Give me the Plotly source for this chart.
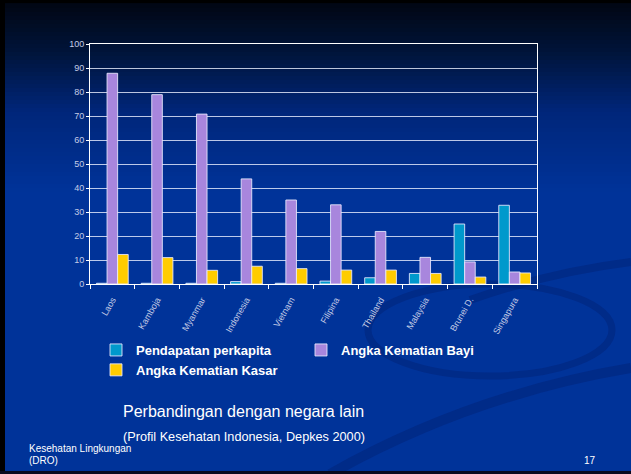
import plotly.graph_objects as go

countries = ["Laos", "Kamboja", "Myanmar", "Indonesia", "Vietnam", "Filipina",
             "Thailand", "Malaysia", "Brunei D.", "Singapura"]
pendapatan = [0.3, 0.3, 0.3, 1.0, 0.3, 1.2, 2.6, 4.4, 25.0, 32.8]
bayi = [87.8, 78.9, 70.8, 43.8, 35.0, 33.0, 21.9, 11.1, 9.2, 5.0]
kasar = [12.3, 11.0, 5.7, 7.4, 6.4, 5.8, 5.8, 4.4, 2.9, 4.6]
y_ticks = list(range(0, 101, 10))

W, H = 631, 474
L, R, T, B = 90, 537, 44, 284

def px(x):
    return (x - L) / (R - L)

def py(y):
    return (B - y) / (B - T)

def path(cmds):
    out = []
    for c in cmds:
        if isinstance(c, str):
            out.append(c)
        else:
            out.append("%f,%f" % (px(c[0]), py(c[1])))
    return " ".join(out)

FONT = "Arial, Liberation Sans, sans-serif"
edge = dict(color="rgba(235,235,255,0.85)", width=1)

fig = go.Figure()
fig.add_bar(x=countries, y=pendapatan, name="Pendapatan perkapita",
            marker=dict(color="#0099cc", line=edge))
fig.add_bar(x=countries, y=bayi, name="Angka Kematian Bayi",
            marker=dict(color="#a886dd", line=edge))
fig.add_bar(x=countries, y=kasar, name="Angka Kematian Kasar",
            marker=dict(color="#ffcc00", line=edge))

# background gradient bands
def lerp(c1, c2, t):
    return tuple(round(a + (b - a) * t) for a, b in zip(c1, c2))

stops = [(0, (1, 6, 18)), (50, (0, 20, 58)), (110, (0, 38, 122)), (190, (0, 51, 153)), (474, (0, 51, 153))]
shapes = []
step = 4
for y0 in range(0, 200, step):
    for (a, ca), (b, cb) in zip(stops, stops[1:]):
        if a <= y0 < b:
            c = lerp(ca, cb, (y0 - a) / (b - a))
            break
    shapes.append(dict(type="rect", xref="paper", yref="paper", layer="below",
                       x0=px(0), x1=px(W), y0=py(y0 + step + 0.5), y1=py(y0),
                       fillcolor="rgb(%d,%d,%d)" % c, line=dict(width=0)))
shapes.append(dict(type="rect", xref="paper", yref="paper", layer="below",
                   x0=px(0), x1=px(W), y0=py(H), y1=py(200),
                   fillcolor="rgb(0,51,153)", line=dict(width=0)))

# subtle decorative swooshes
swoosh = "rgba(0,34,115,0.45)"
cx, cy, rx, ry = 490, 330, 122, 46
k = 0.5523
ell = ["M", (cx - rx, cy),
       "C", (cx - rx, cy + k * ry), (cx - k * rx, cy + ry), (cx, cy + ry),
       "C", (cx + k * rx, cy + ry), (cx + rx, cy + k * ry), (cx + rx, cy),
       "C", (cx + rx, cy - k * ry), (cx + k * rx, cy - ry), (cx, cy - ry),
       "C", (cx - k * rx, cy - ry), (cx - rx, cy - k * ry), (cx - rx, cy)]
shapes.append(dict(type="path", xref="paper", yref="paper", layer="below",
                   path=path(ell), line=dict(color=swoosh, width=7)))
shapes.append(dict(type="path", xref="paper", yref="paper", layer="below",
                   path=path(["M", (330, 474), "Q", (470, 395), (631, 368)]),
                   line=dict(color=swoosh, width=10)))
shapes.append(dict(type="path", xref="paper", yref="paper", layer="below",
                   path=path(["M", (470, 300), "Q", (550, 272), (631, 262)]),
                   line=dict(color=swoosh, width=8)))

# dark frame edges
shapes.append(dict(type="rect", xref="paper", yref="paper", layer="below",
                   x0=px(0), x1=px(5), y0=py(H), y1=py(0),
                   fillcolor="black", line=dict(width=0)))
shapes.append(dict(type="rect", xref="paper", yref="paper", layer="below",
                   x0=px(0), x1=px(W), y0=py(3), y1=py(0),
                   fillcolor="black", line=dict(width=0)))
shapes.append(dict(type="rect", xref="paper", yref="paper", layer="below",
                   x0=px(0), x1=px(W), y0=py(H), y1=py(H - 3),
                   fillcolor="rgb(10,10,30)", line=dict(width=0)))

annotations = [
    dict(text="Perbandingan dengan negara lain", x=px(121), y=py(411), xanchor="left", yanchor="middle",
         font=dict(size=16, color="white", family=FONT)),
    dict(text="(Profil Kesehatan Indonesia, Depkes 2000)", x=px(121), y=py(437), xanchor="left", yanchor="middle",
         font=dict(size=12.7, color="white", family=FONT)),
    dict(text="Kesehatan Lingkungan", x=px(27), y=py(448), xanchor="left", yanchor="middle",
         font=dict(size=10, color="white", family=FONT)),
    dict(text="(DRO)", x=px(27), y=py(460), xanchor="left", yanchor="middle",
         font=dict(size=10, color="white", family=FONT)),
    dict(text="17", x=px(598), y=py(460), xanchor="right", yanchor="middle",
         font=dict(size=10, color="white", family=FONT)),
]
for a in annotations:
    a.update(xref="paper", yref="paper", showarrow=False)

fig.update_layout(
    width=W, height=H,
    margin=dict(l=L, r=W - R, t=T, b=H - B, pad=0, autoexpand=False),
    paper_bgcolor="#003399", plot_bgcolor="rgba(0,0,0,0)",
    barmode="group", bargap=0.29, bargroupgap=0,
    font=dict(family=FONT, color="white"),
    shapes=shapes, annotations=annotations,
    legend=dict(orientation="h", xref="container", yref="container",
                x=96 / W, y=1 - 335 / H, xanchor="left", yanchor="top",
                entrywidth=160, font=dict(size=13, color="white", family=FONT, weight="bold"),
                bgcolor="rgba(0,0,0,0)", itemwidth=30, tracegroupgap=0),
    xaxis=dict(showline=True, linecolor="white", linewidth=1, mirror=True, automargin=False,
               ticks="outside", tickson="boundaries", ticklen=4, tickcolor="white",
               ticklabelstandoff=6,
               tickangle=-60, tickfont=dict(size=9, color="#c4cce6", family=FONT)),
    yaxis=dict(range=[0, 100], tickvals=y_ticks, showline=True, linecolor="white", linewidth=1, mirror=True,
               automargin=False, ticks="outside", ticklen=3, tickcolor="white",
               gridcolor="rgba(235,240,255,0.8)", gridwidth=1,
               tickfont=dict(size=9, color="#c4cce6", family=FONT), zeroline=False),
)
fig.write_html("out.html", config={"displayModeBar": False},
               post_script="document.body.style.margin='0px';document.body.style.background='#000';")
